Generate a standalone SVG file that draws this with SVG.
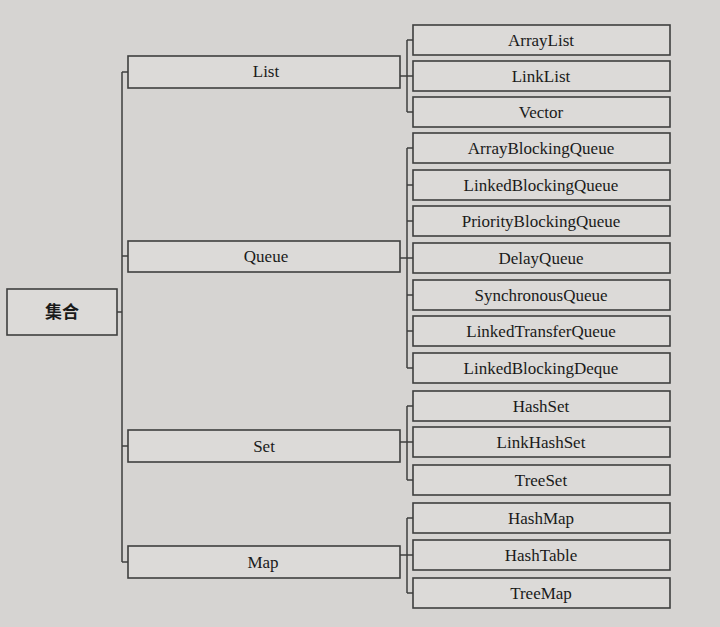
<svg xmlns="http://www.w3.org/2000/svg" width="720" height="627" viewBox="0 0 720 627">
<style>
.box{fill:#dcdad8;stroke:#3f3f3f;stroke-width:1.6}
.t{font-family:"Liberation Serif","Noto Sans CJK SC",serif;font-size:17px;fill:#1a1a1a;text-anchor:middle;dominant-baseline:central}
.c{fill:none;stroke:#3f3f3f;stroke-width:1.5}
</style>
<rect width="720" height="627" fill="#d6d4d2"/>
<g id="connectors">
<path class="c" d="M117 312H122M122 72V562M122 72H128M122 256H128M122 446H128M122 562H128"/>
<path class="c" d="M400 76H407M407 40V112M407 40H413M407 76H413M407 112H413"/>
<path class="c" d="M400 258H407M407 148V368M407 148H413M407 185H413M407 221H413M407 258H413M407 295H413M407 331H413M407 368H413"/>
<path class="c" d="M400 442H407M407 406V480M407 406H413M407 442H413M407 480H413"/>
<path class="c" d="M400 555H407M407 518V593M407 518H413M407 555H413M407 593H413"/>
</g>
<g id="root"><rect class="box" x="7" y="289" width="110" height="46"/><text class="t" x="62" y="312" font-weight="bold">集合</text></g>
<g id="list"><rect class="box" x="128" y="56" width="272" height="32"/><text class="t" x="266" y="71">List</text></g>
<g id="queue"><rect class="box" x="128" y="241" width="272" height="31"/><text class="t" x="266" y="256">Queue</text></g>
<g id="set"><rect class="box" x="128" y="430" width="272" height="32"/><text class="t" x="264" y="446">Set</text></g>
<g id="map"><rect class="box" x="128" y="546" width="272" height="32"/><text class="t" x="263" y="562">Map</text></g>
<g id="arraylist"><rect class="box" x="413" y="25" width="257" height="30"/><text class="t" x="541" y="40">ArrayList</text></g>
<g id="linklist"><rect class="box" x="413" y="61" width="257" height="30"/><text class="t" x="541" y="76">LinkList</text></g>
<g id="vector"><rect class="box" x="413" y="97" width="257" height="30"/><text class="t" x="541" y="112">Vector</text></g>
<g id="arrayblockingqueue"><rect class="box" x="413" y="133" width="257" height="30"/><text class="t" x="541" y="148">ArrayBlockingQueue</text></g>
<g id="linkedblockingqueue"><rect class="box" x="413" y="170" width="257" height="30"/><text class="t" x="541" y="185">LinkedBlockingQueue</text></g>
<g id="priorityblockingqueue"><rect class="box" x="413" y="206" width="257" height="30"/><text class="t" x="541" y="221">PriorityBlockingQueue</text></g>
<g id="delayqueue"><rect class="box" x="413" y="243" width="257" height="30"/><text class="t" x="541" y="258">DelayQueue</text></g>
<g id="synchronousqueue"><rect class="box" x="413" y="280" width="257" height="30"/><text class="t" x="541" y="295">SynchronousQueue</text></g>
<g id="linkedtransferqueue"><rect class="box" x="413" y="316" width="257" height="30"/><text class="t" x="541" y="331">LinkedTransferQueue</text></g>
<g id="linkedblockingdeque"><rect class="box" x="413" y="353" width="257" height="30"/><text class="t" x="541" y="368">LinkedBlockingDeque</text></g>
<g id="hashset"><rect class="box" x="413" y="391" width="257" height="30"/><text class="t" x="541" y="406">HashSet</text></g>
<g id="linkhashset"><rect class="box" x="413" y="427" width="257" height="30"/><text class="t" x="541" y="442">LinkHashSet</text></g>
<g id="treeset"><rect class="box" x="413" y="465" width="257" height="30"/><text class="t" x="541" y="480">TreeSet</text></g>
<g id="hashmap"><rect class="box" x="413" y="503" width="257" height="30"/><text class="t" x="541" y="518">HashMap</text></g>
<g id="hashtable"><rect class="box" x="413" y="540" width="257" height="30"/><text class="t" x="541" y="555">HashTable</text></g>
<g id="treemap"><rect class="box" x="413" y="578" width="257" height="30"/><text class="t" x="541" y="593">TreeMap</text></g>
</svg>
